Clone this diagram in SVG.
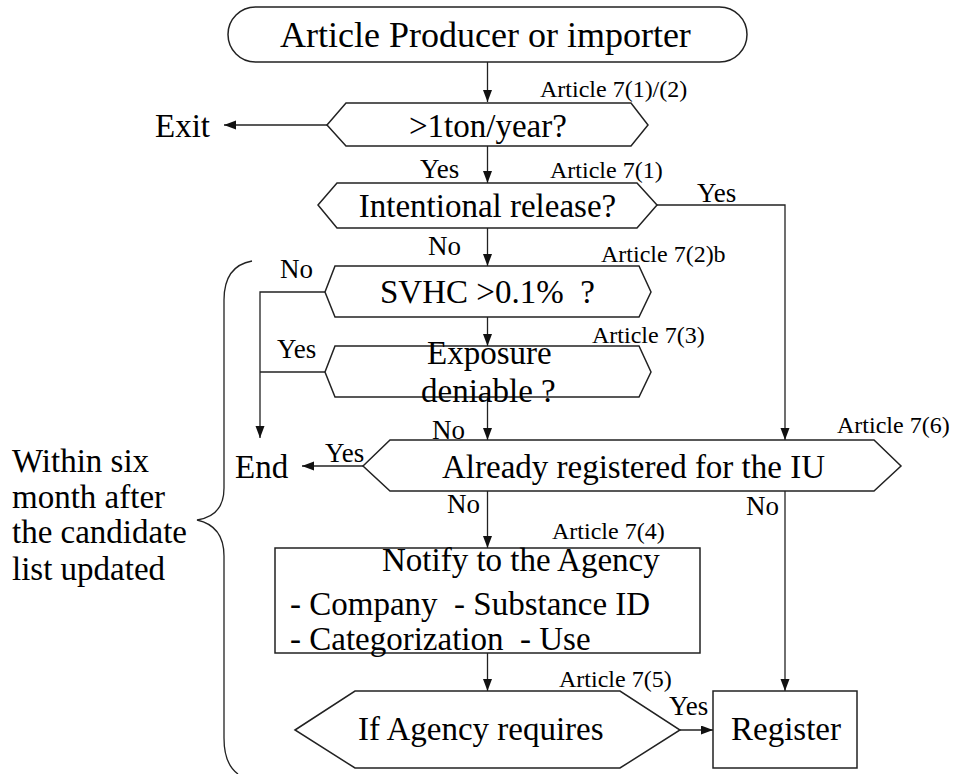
<svg xmlns="http://www.w3.org/2000/svg" width="959" height="774" viewBox="0 0 959 774">
<style>
text{font-family:"Liberation Serif","Times New Roman",serif;fill:#000;white-space:pre}
.m{font-size:33px}
.t{font-size:36px}
.a{font-size:24px}
.yn{font-size:27px}
.s{fill:#fff;stroke:#222;stroke-width:1.5}
.c{fill:none;stroke:#222;stroke-width:1.3}
</style>
<defs>
<marker id="ah" markerUnits="userSpaceOnUse" markerWidth="12" markerHeight="10" refX="12" refY="4.5" orient="auto">
<path d="M0,0 L12,4.5 L0,9 Z" fill="#111"/>
</marker>
</defs>
<rect width="959" height="774" fill="#fff"/>
<g id="connectors">
<path class="c" d="M487.5,62 V102" marker-end="url(#ah)"/>
<path class="c" d="M327,125 H224" marker-end="url(#ah)"/>
<path class="c" d="M487.5,146 V183" marker-end="url(#ah)"/>
<path class="c" d="M657,205 H785 V440" marker-end="url(#ah)"/>
<path class="c" d="M487.5,228 V266" marker-end="url(#ah)"/>
<path class="c" d="M325,292 H260 V438" marker-end="url(#ah)"/>
<path class="c" d="M325,372 H260"/>
<path class="c" d="M487.5,317 V346" marker-end="url(#ah)"/>
<path class="c" d="M487.5,397 V440" marker-end="url(#ah)"/>
<path class="c" d="M363,466 H302" marker-end="url(#ah)"/>
<path class="c" d="M487.5,491 V548" marker-end="url(#ah)"/>
<path class="c" d="M785,491 V691" marker-end="url(#ah)"/>
<path class="c" d="M487.5,653 V691" marker-end="url(#ah)"/>
<path class="c" d="M680,730 H713" marker-end="url(#ah)"/>
<text class="yn" x="420" y="178">Yes</text>
<text class="yn" x="697" y="202">Yes</text>
<text class="yn" x="428" y="255">No</text>
<text class="yn" x="280" y="278">No</text>
<text class="yn" x="277" y="358">Yes</text>
<text class="yn" x="432" y="439">No</text>
<text class="yn" x="325" y="462">Yes</text>
<text class="yn" x="447" y="513">No</text>
<text class="yn" x="746" y="515">No</text>
<text class="yn" x="669" y="715">Yes</text>
</g>
<g id="start">
<rect class="s" x="228" y="7" width="519" height="55" rx="27.5" ry="27.5"/>
<text class="t" x="280" y="47">Article Producer or importer</text>
</g>
<g id="exit">
<text class="m" x="155" y="137">Exit</text>
</g>
<g id="q-tonnage">
<polygon class="s" points="327,125 346,103 631,103 648,125 631,146 346,146"/>
<text class="m" x="409" y="137">&gt;1ton/year?</text>
<text class="a" x="540" y="97">Article 7(1)/(2)</text>
</g>
<g id="q-release">
<polygon class="s" points="318,205 337,183 637,183 657,205 637,228 337,228"/>
<text class="m" x="487.5" y="217" text-anchor="middle">Intentional release?</text>
<text class="a" x="550" y="178">Article 7(1)</text>
</g>
<g id="q-svhc">
<polygon class="s" points="325,292 335,266 639,266 651,292 639,317 335,317"/>
<text class="m" x="380" y="303">SVHC &gt;0.1%  ?</text>
<text class="a" x="601" y="262">Article 7(2)b</text>
</g>
<g id="q-exposure">
<polygon class="s" points="325,372 335,346 639,346 651,372 639,397 335,397"/>
<text class="m" x="427" y="364">Exposure</text>
<text class="m" x="421" y="402">deniable ?</text>
<text class="a" x="592" y="343">Article 7(3)</text>
</g>
<g id="end">
<text class="m" x="235" y="478">End</text>
</g>
<g id="q-registered">
<polygon class="s" points="363,466 390,440 874,440 901,466 874,491 390,491"/>
<text class="m" x="442" y="478">Already registered for the IU</text>
<text class="a" x="837" y="433">Article 7(6)</text>
</g>
<g id="notify">
<rect class="s" x="275" y="548" width="425" height="105"/>
<text class="m" x="382" y="571">Notify to the Agency</text>
<text class="m" x="290" y="615">- Company  - Substance ID</text>
<text class="m" x="290" y="650">- Categorization  - Use</text>
<text class="a" x="552" y="539">Article 7(4)</text>
</g>
<g id="q-agency">
<polygon class="s" points="295,730 355,691 620,691 680,730 620,768 355,768"/>
<text class="m" x="358" y="740">If Agency requires</text>
<text class="a" x="559" y="687">Article 7(5)</text>
</g>
<g id="register">
<rect class="s" x="713" y="691" width="144" height="77"/>
<text class="m" x="731" y="740">Register</text>
</g>
<g id="period">
<path class="c" d="M252,261 Q224,266 224,300 L224,488 Q224,516 197,520 Q224,526 224,556 L224,738 Q224,764 238,774"/>
<text class="m" x="12" y="472">Within six</text>
<text class="m" x="12" y="508">month after</text>
<text class="m" x="12" y="543">the candidate</text>
<text class="m" x="12" y="580">list updated</text>
</g>
</svg>
